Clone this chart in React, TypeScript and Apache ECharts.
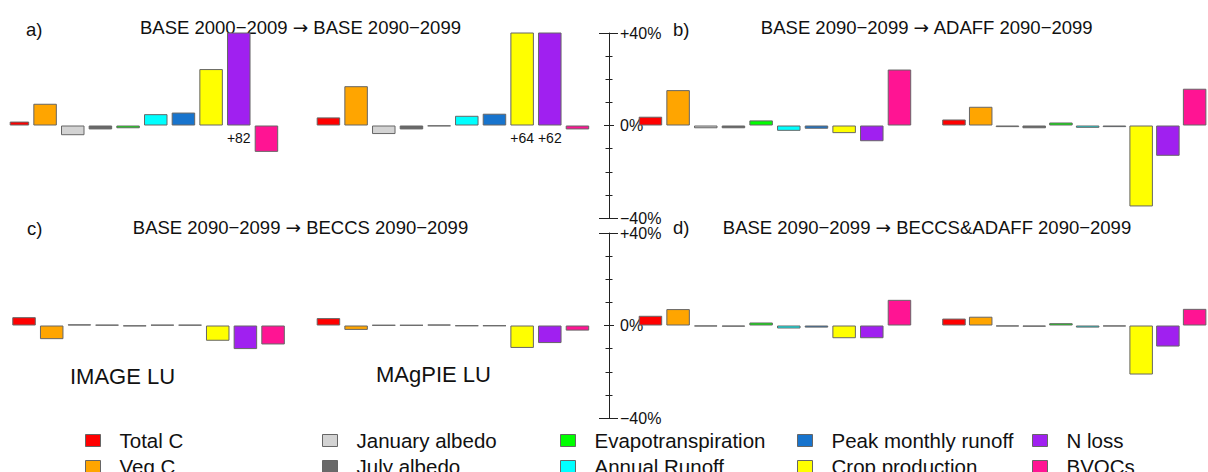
import React, { useEffect, useRef } from "react";
import * as echarts from "echarts";

const categories = [
  "Total C",
  "Veg C",
  "January albedo",
  "July albedo",
  "Evapotranspiration",
  "Annual Runoff",
  "Peak monthly runoff",
  "Crop production",
  "N loss",
  "BVOCs",
];

const colors = [
  "#FF0000",
  "#FFA500",
  "#D3D3D3",
  "#696969",
  "#00FF00",
  "#00FFFF",
  "#1874CD",
  "#FFFF00",
  "#A020F0",
  "#FF1493",
];

// % change per variable (IMAGE LU, MAgPIE LU) for each panel
const aImage = [1.7, 9.4, -4.2, -1.7, -1.2, 4.9, 5.6, 24.4, 82, -11.4];
const aMagpie = [3.5, 17, -3.7, -1.7, -0.3, 4.2, 5.1, 64, 62, -1.7];
const bImage = [3.8, 15.3, -1.2, -1.2, 2.2, -2.3, -1.4, -3.3, -6.8, 24.2];
const bMagpie = [2.6, 8.1, -0.7, -1.2, 1.3, -1.0, -0.7, -35, -13.1, 15.9];
const cImage = [3.6, -5.9, 0.5, 0.3, -0.3, 0.3, 0.3, -6.6, -10.2, -8.2];
const cMagpie = [3.2, -1.9, 0.2, 0.2, 0.4, -0.2, -0.2, -9.7, -7.6, -2.2];
const dImage = [4.2, 7.1, -0.4, -0.5, 1.3, -1.3, -0.9, -5.5, -5.5, 11.1];
const dMagpie = [3.0, 3.8, -0.4, -0.5, 1.0, -0.9, -0.4, -21.2, -9.1, 7.2];

const panelTitles = [
  ["BASE 2000\u22122009", "BASE 2090\u22122099"],
  ["BASE 2090\u22122099", "ADAFF 2090\u22122099"],
  ["BASE 2090\u22122099", "BECCS 2090\u22122099"],
  ["BASE 2090\u22122099", "BECCS&ADAFF 2090\u22122099"],
];
const panelLetters = ["a)", "b)", "c)", "d)"];
const groupLabels = ["IMAGE LU", "MAgPIE LU"];
const axisTickLabels = [-40, 0, 40];

const FONT = "'Liberation Sans', Arial, Helvetica, sans-serif";

export default function App() {
  const ref = useRef<HTMLDivElement>(null);

  useEffect(() => {
    if (!ref.current) return;
    const chart = echarts.init(ref.current, null, { renderer: "svg" });

    const groups = [aImage, aMagpie, bImage, bMagpie, cImage, cMagpie, dImage, dMagpie];
    const lefts = [10.2, 314.6, 636.6, 940.6];
    const tops = [33, 233];
    const gw = 276.7;
    const gh = 185;
    const axisX = 609;

    const grids: any[] = [];
    const xAxes: any[] = [];
    const yAxes: any[] = [];
    const series: any[] = [];

    groups.forEach((vals, gi) => {
      const row = gi < 4 ? 0 : 1;
      const col = gi % 4;
      grids.push({ left: lefts[col], top: tops[row], width: gw, height: gh });
      xAxes.push({ type: "category", gridIndex: gi, data: categories, show: false });
      const visible = col === 2;
      yAxes.push({
        type: "value",
        gridIndex: gi,
        min: -40,
        max: 40,
        interval: 40,
        show: visible,
        position: "left",
        offset: visible ? lefts[2] - axisX : 0,
        splitLine: { show: false },
        axisLine: { show: visible, lineStyle: { color: "#222", width: 1 } },
        axisTick: { show: visible, length: 5, lineStyle: { color: "#222" } },
        axisLabel: {
          show: visible,
          inside: true,
          margin: 11,
          color: "#111",
          fontSize: 16,
          fontFamily: FONT,
          formatter: (v: number) =>
            axisTickLabels.indexOf(v) < 0 ? "" : v > 0 ? "+" + v + "%" : v < 0 ? "\u2212" + Math.abs(v) + "%" : "0%",
        },
      });
      series.push({
        type: "bar",
        xAxisIndex: gi,
        yAxisIndex: gi,
        barWidth: 23.5,
        clip: true,
        itemStyle: { borderColor: "#666", borderWidth: 1 },
        data: vals.map((v, i) => ({
          value: v,
          itemStyle: { color: colors[i] },
          label:
            v > 40
              ? {
                  show: true,
                  position: "bottom",
                  distance: 5,
                  formatter: "+" + v,
                  color: "#111",
                  fontSize: 14,
                  fontFamily: FONT,
                }
              : { show: false },
        })),
      });
    });

    // extra tick-only axes for the two visible axes
    const tickSets = [
      { interval: 40, inside: true, length: 5 },
      { interval: 80, inside: false, length: 10 },
      { interval: 80, inside: true, length: 9 },
      { interval: 10, inside: false, length: 3.5 },
      { interval: 10, inside: true, length: 3.5 },
    ];
    [2, 6].forEach((gi) => {
      tickSets.forEach((t) => {
        yAxes.push({
          type: "value",
          gridIndex: gi,
          min: -40,
          max: 40,
          interval: t.interval,
          position: "left",
          offset: lefts[2] - axisX,
          splitLine: { show: false },
          axisLine: { show: false },
          axisLabel: { show: false },
          axisTick: { show: true, inside: t.inside, length: t.length, lineStyle: { color: "#222" } },
        });
      });
    });

    // legend-only series
    categories.forEach((name, i) => {
      series.push({
        type: "bar",
        name,
        xAxisIndex: 0,
        yAxisIndex: 0,
        data: [],
        itemStyle: { color: colors[i], borderColor: "#666", borderWidth: 1 },
      });
    });

    const legendLefts = [85, 322, 560, 797, 1032];
    const legends = legendLefts.map((l, k) => ({
      orient: "vertical",
      left: l,
      top: 430,
      height: 60,
      padding: 0,
      itemGap: 5,
      itemWidth: 15,
      itemHeight: 12,
      icon: "rect",
      selectedMode: false,
      data: [categories[k * 2], categories[k * 2 + 1]],
      itemStyle: { borderColor: "#666", borderWidth: 1 },
      textStyle: {
        fontSize: 20.5,
        lineHeight: 20,
        color: "#111",
        fontFamily: FONT,
        padding: [0, 0, 0, 14],
      },
    }));

    const titleXs = [300.5, 927, 300.5, 927];
    const titleYs = [27, 27, 227, 227];
    const letterXs = [26, 673, 27, 673];
    const letterYs = [29, 29, 228, 227];

    const graphic: any[] = [];
    panelTitles.forEach((t, i) => {
      graphic.push({
        type: "text",
        x: titleXs[i],
        y: titleYs[i],
        style: {
          text: t[0] + " {a|\u2192} " + t[1],
          font: "18.5px " + FONT,
          fill: "#111",
          textAlign: "center",
          textVerticalAlign: "middle",
          rich: { a: { fontFamily: "'DejaVu Sans', sans-serif", fontSize: 18.5, fill: "#111" } },
        },
      });
      graphic.push({
        type: "text",
        x: letterXs[i],
        y: letterYs[i],
        style: { text: panelLetters[i], font: "18.5px " + FONT, fill: "#111", textAlign: "left", textVerticalAlign: "middle" },
      });
    });
    graphic.push({
      type: "text",
      x: 70,
      y: 376,
      style: { text: groupLabels[0], font: "22px " + FONT, fill: "#111", textAlign: "left", textVerticalAlign: "middle" },
    });
    graphic.push({
      type: "text",
      x: 376,
      y: 374,
      style: { text: groupLabels[1], font: "22px " + FONT, fill: "#111", textAlign: "left", textVerticalAlign: "middle" },
    });

    chart.setOption({
      animation: false,
      backgroundColor: "#fff",
      grid: grids,
      xAxis: xAxes,
      yAxis: yAxes,
      series,
      legend: legends,
      graphic,
    });

    return () => chart.dispose();
  }, []);

  return (
    <div
      ref={ref}
      style={{ position: "absolute", left: 0, top: 0, width: 1208, height: 472 }}
    />
  );
}
